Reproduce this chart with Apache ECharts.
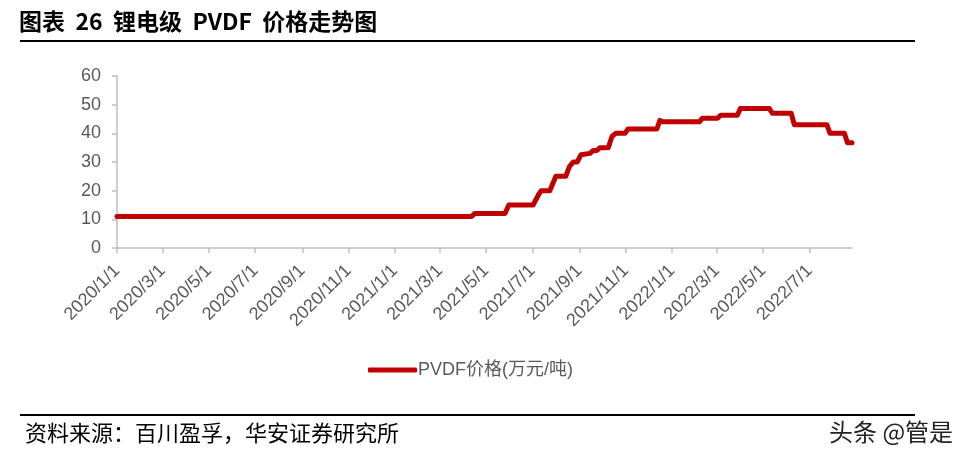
<!DOCTYPE html>
<html>
<head>
<meta charset="utf-8">
<script src="https://cdn.jsdelivr.net/npm/echarts@6/dist/echarts.min.js"></script>
<style>
html,body{margin:0;padding:0;background:#fff;}
#c{width:974px;height:453px;}
</style>
</head>
<body>
<div id="c"></div>
<script>
const dates = [
  '2020-01-01','2021-04-12','2021-04-16','2021-05-26','2021-05-31','2021-07-02','2021-07-06','2021-07-10',
  '2021-07-13','2021-07-24','2021-08-01','2021-08-14','2021-08-19','2021-08-24','2021-08-29','2021-09-03',
  '2021-09-15','2021-09-19','2021-09-24','2021-09-28','2021-10-09','2021-10-14','2021-10-19','2021-10-31',
  '2021-11-04','2021-12-12','2021-12-16','2021-12-20','2022-02-06','2022-02-10','2022-03-02','2022-03-06',
  '2022-03-28','2022-04-01','2022-05-09','2022-05-13','2022-06-07','2022-06-11','2022-07-24','2022-07-28',
  '2022-08-16','2022-08-20','2022-08-26'
];
const prices = [
  11,11,12,12,15,15,17,19,
  20,20,25,25,28.5,30,30,32.5,
  33,34,34,35,35,39,40,40,
  41.5,41.5,44.5,44,44,45.3,45.3,46.3,
  46.3,48.7,48.7,47,47,43,43,40,
  40,36.7,36.7
];
const xTicks = ['2020-01-01','2020-03-01','2020-05-01','2020-07-01','2020-09-01','2020-11-01',
  '2021-01-01','2021-03-01','2021-05-01','2021-07-01','2021-09-01','2021-11-01',
  '2022-01-01','2022-03-01','2022-05-01','2022-07-01'];
const xMin = '2020-01-01';
const xMax = '2022-08-26';
const seriesName = 'PVDF价格(万元/吨)';
const titleText = '图表  26  锂电级  PVDF  价格走势图';
const sourceText = '资料来源：百川盈孚，华安证券研究所';
const watermark = '头条 @管是';

function ms(s){const p=s.split('-').map(Number);return Date.UTC(p[0],p[1]-1,p[2]);}
function fmt(v){const d=new Date(v);return d.getUTCFullYear()+'/'+(d.getUTCMonth()+1)+'/'+d.getUTCDate();}

const data = dates.map((d,i)=>[ms(d),prices[i]]);
const tickVals = xTicks.map(ms);

const chart = echarts.init(document.getElementById('c'),null,{renderer:'canvas'});
chart.setOption({
  animation:false,
  backgroundColor:'#fff',
  title:[
    {text:titleText,left:14,top:5,textStyle:{fontFamily:'Noto Sans CJK SC',fontWeight:'bold',fontSize:23,color:'#000'}},
    {text:sourceText,left:20,top:417,textStyle:{fontFamily:'Noto Sans CJK SC',fontWeight:'normal',fontSize:22,color:'#000'}},
    {text:watermark,left:824,top:415,textStyle:{fontFamily:'Noto Sans CJK SC',fontWeight:'normal',fontSize:24,color:'#222'}}
  ],
  graphic:[
    {type:'line',shape:{x1:20,y1:41,x2:915,y2:41},style:{stroke:'#000',lineWidth:2}},
    {type:'line',shape:{x1:20,y1:415,x2:915,y2:415},style:{stroke:'#000',lineWidth:2}}
  ],
  legend:{
    data:[{name:seriesName,icon:'roundRect'}],
    left:363,top:356,itemWidth:49,itemHeight:5,itemGap:4,
    textStyle:{fontFamily:'Liberation Sans, Noto Sans CJK SC',fontSize:18,color:'#595959',padding:[0,0,0,-4]}
  },
  grid:{left:117,right:122,top:76,bottom:205,containLabel:false},
  xAxis:{
    type:'value',min:ms(xMin),max:ms(xMax),
    splitLine:{show:false},
    axisLine:{show:true,lineStyle:{color:'#BFBFBF',width:1.5}},
    axisTick:{show:true,customValues:tickVals,length:5,lineStyle:{color:'#BFBFBF',width:1.5}},
    axisLabel:{customValues:tickVals,formatter:fmt,rotate:45,margin:20,
      fontFamily:'Liberation Sans',fontSize:18,color:'#595959'}
  },
  yAxis:{
    type:'value',min:0,max:60,interval:10,
    splitLine:{show:false},
    axisLine:{show:true,lineStyle:{color:'#BFBFBF',width:1.5}},
    axisTick:{show:true,length:5,lineStyle:{color:'#BFBFBF',width:1.5}},
    axisLabel:{fontFamily:'Liberation Sans',fontSize:18,color:'#595959',margin:16}
  },
  series:[{
    name:seriesName,type:'line',data:data,symbol:'none',
    lineStyle:{color:'#C00000',width:5,join:'round',cap:'round'},
    itemStyle:{color:'#C00000'}
  }]
});
</script>
</body>
</html>
